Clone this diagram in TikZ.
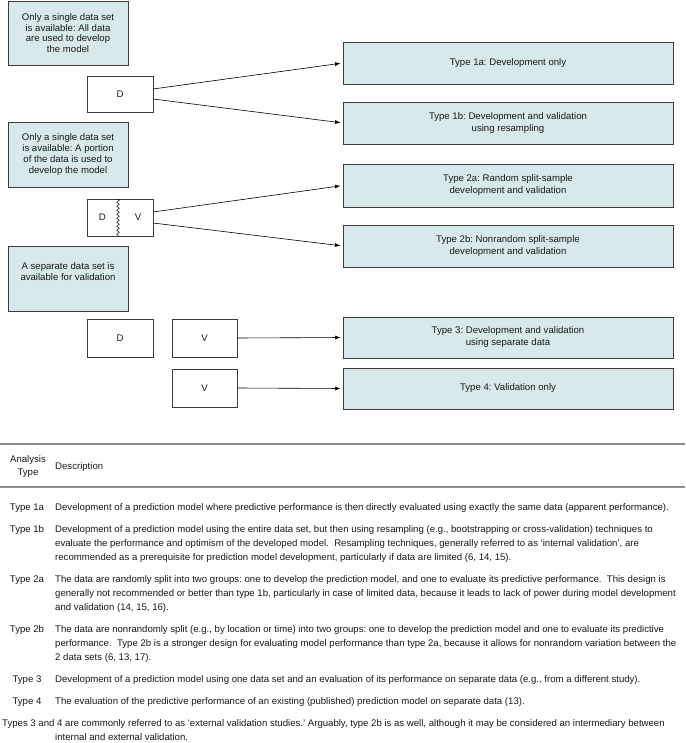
\documentclass[tikz,border=0pt]{standalone}
\usepackage{fontspec}
\setmainfont{Liberation Sans}
\usetikzlibrary{arrows.meta,decorations.pathmorphing}
\definecolor{boxfill}{RGB}{216,233,236}
\definecolor{boxline}{RGB}{60,60,60}
\definecolor{rulegray}{RGB}{140,140,140}
\definecolor{txt}{RGB}{25,25,25}
\newcommand\diagfont{\fontsize{9.6}{10.8}\selectfont}
\newcommand\typefont{\fontsize{9.6}{12}\selectfont}
\newcommand\tabfont{\fontsize{9.6}{14}\selectfont}
\begin{document}
\frenchspacing
\begin{tikzpicture}[x=1pt,y=-1pt,
  infobox/.style={draw=boxline, fill=boxfill, line width=0.9pt, inner sep=0pt, outer sep=0pt, align=center, font=\diagfont, text=txt},
  typebox/.style={draw=boxline, fill=boxfill, line width=0.9pt, inner sep=0pt, outer sep=0pt, align=center, font=\typefont, text=txt, minimum width=330pt},
  databox/.style={draw=boxline, fill=white, line width=0.9pt, inner sep=0pt, outer sep=0pt, font=\diagfont, text=txt},
  conn/.style={-{Latex[length=5.5pt,width=4pt]}, line width=0.6pt, shorten >=2.5pt, draw=black},
  tlabel/.style={anchor=north, inner sep=0pt, font=\tabfont, text=txt},
  tdesc/.style={anchor=north west, inner sep=0pt, align=left, font=\tabfont, text=txt},
  tabrule/.style={draw=rulegray, line width=1.4pt}]
\useasboundingbox (0,0) rectangle (685,743);
\fill[white] (0,0) rectangle (685,743);

% left situation boxes
\node[infobox, minimum width=120pt, minimum height=64pt] (s1) at (68,33)
  {Only a single data set\\is available: All data\\are used to develop\\the model};
\node[infobox, minimum width=120pt, minimum height=65pt] (s2) at (68,154.5)
  {Only a single data set\\is available: A portion\\of the data is used to\\develop the model};
\node[infobox, minimum width=120pt, minimum height=65pt] (s3) at (68,278.5) {};
\node[align=center, inner sep=0pt, font=\diagfont, text=txt] (s3t) at (68,271.5)
  {A separate data set is\\available for validation};

% data boxes
\node[databox, minimum width=66pt, minimum height=36pt] (d1) at (120,94) {D};
\node[databox, minimum width=66pt, minimum height=37pt] (dv) at (120,217.5) {D\hspace{29pt}V};
\draw[line width=0.5pt, decorate, decoration={snake, segment length=4pt, amplitude=1.3pt}]
  ([xshift=-2pt]dv.north) -- ([xshift=-2pt]dv.south);
\node[databox, minimum width=66pt, minimum height=38pt] (d3) at (120,338) {D};
\node[databox, minimum width=65pt, minimum height=38pt] (v3) at (204.5,338) {V};
\node[databox, minimum width=65pt, minimum height=38pt] (v4) at (204.5,388) {V};

% type boxes
\node[typebox, minimum height=42pt] (t1a) at (508,63) {Type 1a: Development only};
\node[typebox, minimum height=42pt] (t1b) at (508,123) {Type 1b: Development and validation\\using resampling};
\node[typebox, minimum height=43pt] (t2a) at (508,185.5) {Type 2a: Random split-sample\\development and validation};
\node[typebox, minimum height=42pt] (t2b) at (508,246) {Type 2b: Nonrandom split-sample\\development and validation};
\node[typebox, minimum height=41pt] (t3) at (508,337.5) {Type 3: Development and validation\\using separate data};
\node[typebox, minimum height=41pt] (t4) at (508,388.5) {Type 4: Validation only};

% connectors
\draw[conn] ([yshift=5pt]d1.east) -- (t1a.west);
\draw[conn] ([yshift=-5pt]d1.east) -- (t1b.west);
\draw[conn] ([yshift=5.5pt]dv.east) -- (t2a.west);
\draw[conn] ([yshift=-5.5pt]dv.east) -- (t2b.west);
\draw[conn] (v3.east) -- (t3.west);
\draw[conn] (v4.east) -- (t4.west);

% table
\coordinate (r1l) at (0,444); \coordinate (r1r) at (685,444);
\coordinate (r2l) at (0,487); \coordinate (r2r) at (685,487);
\draw[tabrule] (r1l) -- (r1r);
\draw[tabrule] (r2l) -- (r2r);
\node[anchor=north, inner sep=0pt, align=center, font=\fontsize{9.6}{13}\selectfont, text=txt] (hA) at (28,453) {\strut Analysis\\Type};
\node[tdesc] (hD) at (55,459) {\strut Description};

\node[tlabel] (l1a) at (27,500) {\strut Type 1a};
\node[tdesc] (e1a) at (55,500) {\strut Development of a prediction model where predictive performance is then directly evaluated using exactly the same data (apparent performance).};

\node[tlabel] (l1b) at (27,522) {\strut Type 1b};
\node[tdesc] (e1b) at (55,522) {\strut Development of a prediction model using the entire data set, but then using resampling (e.g., bootstrapping or cross-validation) techniques to\\
evaluate the performance and optimism of the developed model.\ \ Resampling techniques, generally referred to as ‘internal validation’, are\\
recommended as a prerequisite for prediction model development, particularly if data are limited (6, 14, 15).};

\node[tlabel] (l2a) at (27,572) {\strut Type 2a};
\node[tdesc] (e2a) at (55,572) {\strut The data are randomly split into two groups: one to develop the prediction model, and one to evaluate its predictive performance.\ \ This design is\\
generally not recommended or better than type 1b, particularly in case of limited data, because it leads to lack of power during model development\\
and validation (14, 15, 16).};

\node[tlabel] (l2b) at (27,622) {\strut Type 2b};
\node[tdesc] (e2b) at (55,622) {\strut The data are nonrandomly split (e.g., by location or time) into two groups: one to develop the prediction model and one to evaluate its predictive\\
performance.\ \ Type 2b is a stronger design for evaluating model performance than type 2a, because it allows for nonrandom variation between the\\
2 data sets (6, 13, 17).};

\node[tlabel] (l3) at (27,672) {\strut Type 3};
\node[tdesc] (e3) at (55,672) {\strut Development of a prediction model using one data set and an evaluation of its performance on separate data (e.g., from a different study).};

\node[tlabel] (l4) at (27,694) {\strut Type 4};
\node[tdesc] (e4) at (55,694) {\strut The evaluation of the predictive performance of an existing (published) prediction model on separate data (13).};

\node[tdesc] (foot) at (2,716) {\strut Types 3 and 4 are commonly referred to as ‘external validation studies.’ Arguably, type 2b is as well, although it may be considered an intermediary between\\
\hspace*{53pt}internal and external validation.};
\end{tikzpicture}
\end{document}
